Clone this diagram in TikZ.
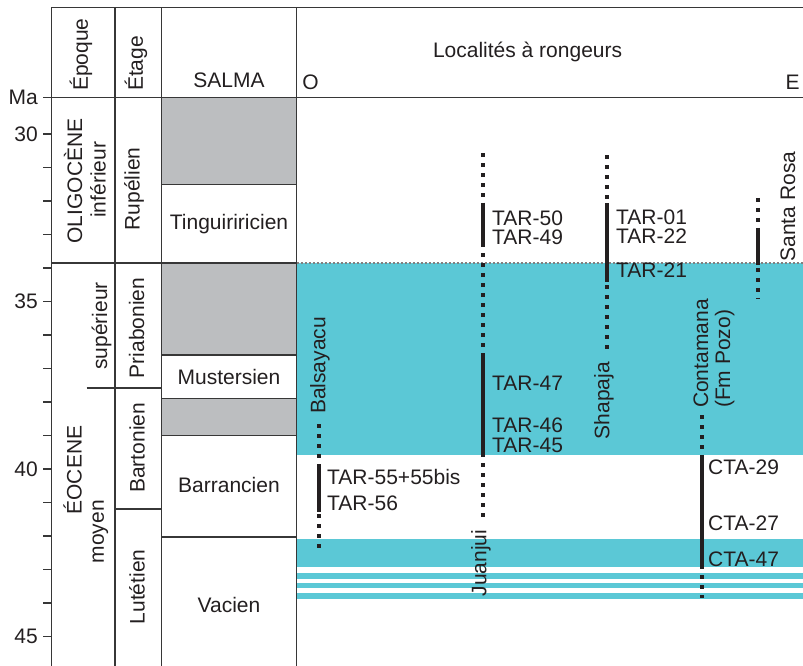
\documentclass[tikz,border=0pt]{standalone}
\usepackage{fontspec}
\setmainfont{Liberation Sans}
\definecolor{bleu}{RGB}{91,200,214}
\definecolor{gris}{RGB}{188,190,192}
\definecolor{trait}{RGB}{55,55,55}
\definecolor{encre}{RGB}{35,31,32}
\tikzset{
	txt/.style={font=\fontsize{21}{22}\selectfont, inner sep=0pt, text=encre},
	serre/.style={txt, align=left, font=\fontsize{21}{18.7}\selectfont},
	vtxt/.style={txt, rotate=90},
	grille/.style={draw=trait, line width=1.3pt},
	pointille/.style={line width=4pt, dash pattern=on 4pt off 6pt, color=encre},
	plein/.style={line width=4pt, color=encre},
}

\begin{document}
\begin{tikzpicture}[x=1pt, y=-33.5pt]
			%%%%% START %%%%%
			\useasboundingbox (0,26) rectangle (803,45.88);
			
			% fonds
			\fill[gris] (161.7,28.9) rectangle (296.7,31.5);
			\fill[gris] (161.7,33.85) rectangle (296.7,36.6);
			\fill[gris] (161.7,37.9) rectangle (296.7,39.0);
			\fill[bleu] (296.7,33.85) rectangle (803,39.58);
			\fill[bleu] (296.7,42.09) rectangle (803,42.92);
			\fill[bleu] (296.7,43.11) rectangle (803,43.27);
			\fill[bleu] (296.7,43.41) rectangle (803,43.56);
			\fill[bleu] (296.7,43.70) rectangle (803,43.87);
			\draw[gray, line width=1.5pt, dash pattern=on 2pt off 2pt] (296.7,33.85) -- (803,33.85);
			
			% grille
			\draw[grille] (51.7,26.22) -- (803,26.22);
			\draw[grille] (43,28.9) -- (803,28.9);
			\foreach \x in {51.7,115,161.7,296.7}
				\draw[grille] (\x,26.22) -- (\x,45.88);
			\draw[grille] (51.7,33.85) -- (296.7,33.85);
			\draw[grille] (86.7,37.58) -- (161.7,37.58);
			\draw[grille] (115,41.19) -- (161.7,41.19);
			\foreach \m in {31.5,36.6,37.9,39.0,42.03}
				\draw[grille] (161.7,\m) -- (296.7,\m);
			
			% echelle
			\foreach \m in {30,...,45}
				\draw[grille] (43,\m) -- (51.7,\m);
			\node[txt, anchor=east] (ma) at (38,28.9) {Ma};
			\foreach \m in {30,35,40,45}
				\node[txt, anchor=east] (m\m) at (38,\m) {\m};
			
			% en-tetes
			\node[vtxt, anchor=west] (epoque) at (81,28.72) {Époque};
			\node[vtxt, anchor=west] (etage) at (136,28.72) {Étage};
			\node[txt] (salma) at (229,28.39) {SALMA};
			\node[txt] (localites) at (527.6,27.54) {Localités à rongeurs};
			\node[txt] (ouest) at (310.5,28.46) {O};
			\node[txt] (est) at (792.5,28.46) {E};
			
			% epoques et etages
			\node[vtxt] (oligo) at (73,31.4) {OLIGOCÈNE};
			\node[vtxt] (inf) at (98,31.37) {inférieur};
			\node[vtxt] (eocene) at (72.5,40.03) {ÉOCENE};
			\node[vtxt] (moyen) at (100.5,41.87) {moyen};
			\node[vtxt] (sup) at (101.5,35.73) {supérieur};
			\node[vtxt] (rupelien) at (134,31.64) {Rupélien};
			\node[vtxt] (priabonien) at (136.5,35.79) {Priabonien};
			\node[vtxt] (bartonien) at (137,39.37) {Bartonien};
			\node[vtxt] (lutetien) at (137,43.52) {Lutétien};
			
			% SALMA
			\node[txt] (tingui) at (229,32.69) {Tinguiririci{en}};
			\node[txt] (muster) at (229,37.25) {Mustersien};
			\node[txt] (barran) at (229,40.48) {Barrancien};
			\node[txt] (vacien) at (229,44.05) {Vacien};
			
			% Balsayacu
			\draw[pointille] (319.3,38.66) -- (319.3,42.42);
			\draw[plein] (319.3,39.88) -- (319.3,41.27);
			\node[vtxt, anchor=west] (balsayacu) at (320,38.36) {Balsayacu};
			\node[txt, anchor=west] (tar55) at (327,40.23) {TAR-55+55bis};
			\node[txt, anchor=west] (tar56) at (327,41.01) {TAR-56};
			
			% Juanjui
			\draw[pointille] (482.7,30.57) -- (482.7,41.57);
			\draw[plein] (482.7,32.05) -- (482.7,33.36);
			\draw[plein] (482.7,36.65) -- (482.7,39.58);
			\node[vtxt, anchor=west] (juanjui) at (481,43.81) {Juanjui};
			\node[serre, anchor=west] (tar50) at (492,32.79) {TAR-50\\TAR-49};
			\node[txt, anchor=west] (tar47) at (492,37.43) {TAR-47};
			\node[txt, anchor=west] (tar46) at (492,38.69) {TAR-46};
			\node[txt, anchor=west] (tar45) at (492,39.28) {TAR-45};
			
			% Shapaja
			\draw[pointille] (606.7,30.63) -- (606.7,36.51);
			\draw[plein] (606.7,32.06) -- (606.7,34.42);
			\node[vtxt, anchor=west] (shapaja) at (604,39.12) {Shapaja};
			\node[serre, anchor=west] (tar01) at (616,32.76) {TAR-01\\TAR-22};
			\node[txt, anchor=west] (tar21) at (616,34.06) {TAR-21};
			
			% Contamana
			\draw[pointille] (701.7,38.39) -- (701.7,43.85);
			\draw[plein] (701.7,39.58) -- (701.7,42.92);
			\node[vtxt, anchor=west, align=left] (contamana) at (714,38.18) {Contamana\\(Fm Pozo)};
			\node[txt, anchor=west] (cta29) at (708,39.95) {CTA-29};
			\node[txt, anchor=west] (cta27) at (708,41.62) {CTA-27};
			\node[txt, anchor=west] (cta47) at (708,42.70) {CTA-47};
			
			% Santa Rosa
			\draw[pointille] (758.3,31.91) -- (758.3,34.9);
			\draw[plein] (758.3,32.87) -- (758.3,33.91);
			\node[vtxt, anchor=west] (santarosa) at (788,33.81) {Santa Rosa};
			
			%%%%% END %%%%%
\end{tikzpicture}
\end{document}
